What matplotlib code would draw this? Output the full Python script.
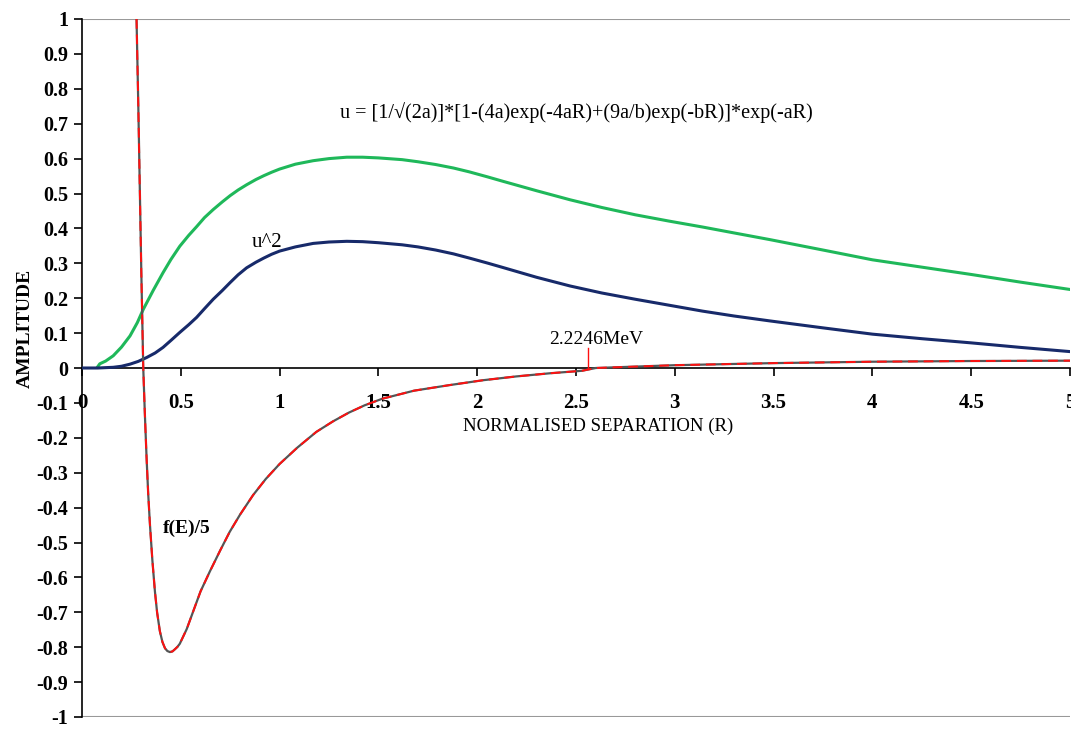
import matplotlib
matplotlib.use('Agg')
import matplotlib.pyplot as plt

# values
u_x = [0.08, 0.09, 0.12, 0.158, 0.2, 0.243, 0.28, 0.31, 0.36, 0.41, 0.45, 0.495, 0.54, 0.58,
       0.62, 0.664, 0.71, 0.75, 0.79, 0.833, 0.88, 0.92, 0.96, 1.0, 1.08, 1.17, 1.25, 1.34,
       1.42, 1.5, 1.62, 1.7, 1.79, 1.88, 1.96, 2.05, 2.13, 2.3, 2.47, 2.63, 2.80, 2.97, 3.14,
       3.3, 3.48, 3.75, 4.0, 4.25, 4.5, 4.75, 5.0]
u_y = [0.004, 0.012, 0.020, 0.035, 0.060, 0.092, 0.130, 0.168, 0.222, 0.273, 0.311, 0.349,
       0.380, 0.405, 0.431, 0.454, 0.476, 0.494, 0.510, 0.525, 0.540, 0.551, 0.561, 0.570,
       0.584, 0.594, 0.600, 0.604, 0.604, 0.602, 0.597, 0.591, 0.583, 0.573, 0.562, 0.548,
       0.535, 0.508, 0.482, 0.460, 0.439, 0.421, 0.404, 0.387, 0.368, 0.338, 0.310, 0.289,
       0.268, 0.246, 0.225]

u2_x = [0.0, 0.08, 0.158, 0.2, 0.243, 0.285, 0.327, 0.37, 0.41, 0.45, 0.495, 0.54, 0.58,
        0.62, 0.664, 0.71, 0.75, 0.79, 0.833, 0.88, 0.92, 0.96, 1.0, 1.08, 1.17, 1.25, 1.34,
        1.42, 1.5, 1.62, 1.7, 1.79, 1.88, 1.96, 2.05, 2.13, 2.3, 2.47, 2.63, 2.80, 2.97, 3.14,
        3.3, 3.48, 3.75, 4.0, 4.25, 4.5, 4.75, 5.0]
u2_y = [0.0, 0.0, 0.002, 0.005, 0.011, 0.019, 0.030, 0.043, 0.059, 0.079, 0.102, 0.124,
        0.145, 0.170, 0.197, 0.222, 0.245, 0.267, 0.287, 0.303, 0.315, 0.326, 0.335, 0.347,
        0.357, 0.361, 0.363, 0.362, 0.359, 0.353, 0.347, 0.338, 0.327, 0.315, 0.301, 0.288,
        0.260, 0.235, 0.215, 0.197, 0.180, 0.163, 0.149, 0.135, 0.115, 0.097, 0.084, 0.072,
        0.059, 0.047]

fe_x = [0.276, 0.285, 0.293, 0.300, 0.31, 0.318, 0.327, 0.335, 0.344, 0.356, 0.369, 0.38,
        0.394, 0.407, 0.42, 0.432, 0.445, 0.458, 0.47, 0.483, 0.495, 0.53, 0.563, 0.60,
        0.647, 0.70, 0.748, 0.80, 0.866, 0.93, 1.0, 1.09, 1.186, 1.27, 1.35, 1.43, 1.52,
        1.68, 1.86, 2.03, 2.20, 2.37, 2.53, 2.6, 2.8, 3.0, 3.25, 3.5, 3.75, 4.0, 4.5, 5.0]
fe_y = [1.0, 0.75, 0.5, 0.28, 0.0, -0.13, -0.26, -0.36, -0.45, -0.55, -0.64, -0.70,
        -0.754, -0.785, -0.803, -0.811, -0.814, -0.812, -0.806, -0.799, -0.790, -0.748,
        -0.697, -0.640, -0.583, -0.522, -0.469, -0.420, -0.364, -0.318, -0.275, -0.228,
        -0.183, -0.153, -0.128, -0.107, -0.088, -0.065, -0.049, -0.035, -0.024, -0.015,
        -0.008, 0.0, 0.004, 0.008, 0.011, 0.014, 0.016, 0.018, 0.020, 0.021]

binding_x = 2.56
x_ticks = [0, 0.5, 1, 1.5, 2, 2.5, 3, 3.5, 4, 4.5, 5]
y_ticks = [-1, -0.9, -0.8, -0.7, -0.6, -0.5, -0.4, -0.3, -0.2, -0.1, 0,
           0.1, 0.2, 0.3, 0.4, 0.5, 0.6, 0.7, 0.8, 0.9, 1]

plt.rcParams['font.family'] = ['Liberation Serif', 'DejaVu Serif']

fig = plt.figure(figsize=(10.71, 7.29), dpi=100)
ax = fig.add_axes([82 / 1071, 12 / 729, 988 / 1071, 698 / 729])

ax.plot(u_x, u_y, color='#1fb85a', lw=2.2, zorder=3)
ax.plot(u2_x, u2_y, color='#172a6a', lw=2.2, zorder=3)
ax.plot(fe_x, fe_y, color='#555555', lw=1.6, zorder=4)
ax.plot(fe_x, fe_y, color='#ff1010', lw=1.4, dashes=(5, 3), zorder=5)

# binding energy marker
ax.plot([binding_x, binding_x], [0, 0.057], color='#ff1010', lw=1.0, zorder=5)
ax.text(2.60, 0.056, '2.2246MeV', ha='center', va='bottom', fontsize=14)

ax.text(2.50, 0.733, 'u = [1/\u221a(2a)]*[1-(4a)exp(-4aR)+(9a/b)exp(-bR)]*exp(-aR)',
        ha='center', va='center', fontsize=14.5)
ax.text(0.86, 0.36, 'u^2', ha='left', va='center', fontsize=15)
ax.text(0.41, -0.46, 'f(E)/5', ha='left', va='center', fontsize=14, fontweight='bold')
ax.text(2.61, -0.168, 'NORMALISED SEPARATION (R)', ha='center', va='center', fontsize=13.5)
fig.text(25 / 1071, 1 - 328 / 729, 'AMPLITUDE', rotation=90, ha='center', va='center',
         fontsize=14, fontweight='bold')

ax.spines['bottom'].set_position(('data', 0))
ax.spines['right'].set_visible(False)
ax.spines['top'].set_visible(False)
ax.spines['left'].set_linewidth(1.2)
ax.spines['bottom'].set_linewidth(1.2)

ax.set_xlim(0, 5)
ax.set_ylim(-1, 1)
ax.set_xticks(x_ticks)
ax.set_xticklabels(['0', '0.5', '1', '1.5', '2', '2.5', '3', '3.5', '4', '4.5', '5'],
                   fontsize=15, fontweight='bold')
ax.set_yticks(y_ticks)
ax.set_yticklabels(['%g' % v for v in y_ticks], fontsize=14.5, fontweight='bold')

ax.axhline(1, color='#999999', lw=1.5, zorder=1)
ax.axhline(-1, color='#999999', lw=1.5, zorder=1)
ax.tick_params(axis='x', direction='out', length=6, width=1.2, pad=12)
ax.tick_params(axis='y', direction='out', length=6, width=1.2, pad=4)

fig.savefig('out.png', dpi=100)
